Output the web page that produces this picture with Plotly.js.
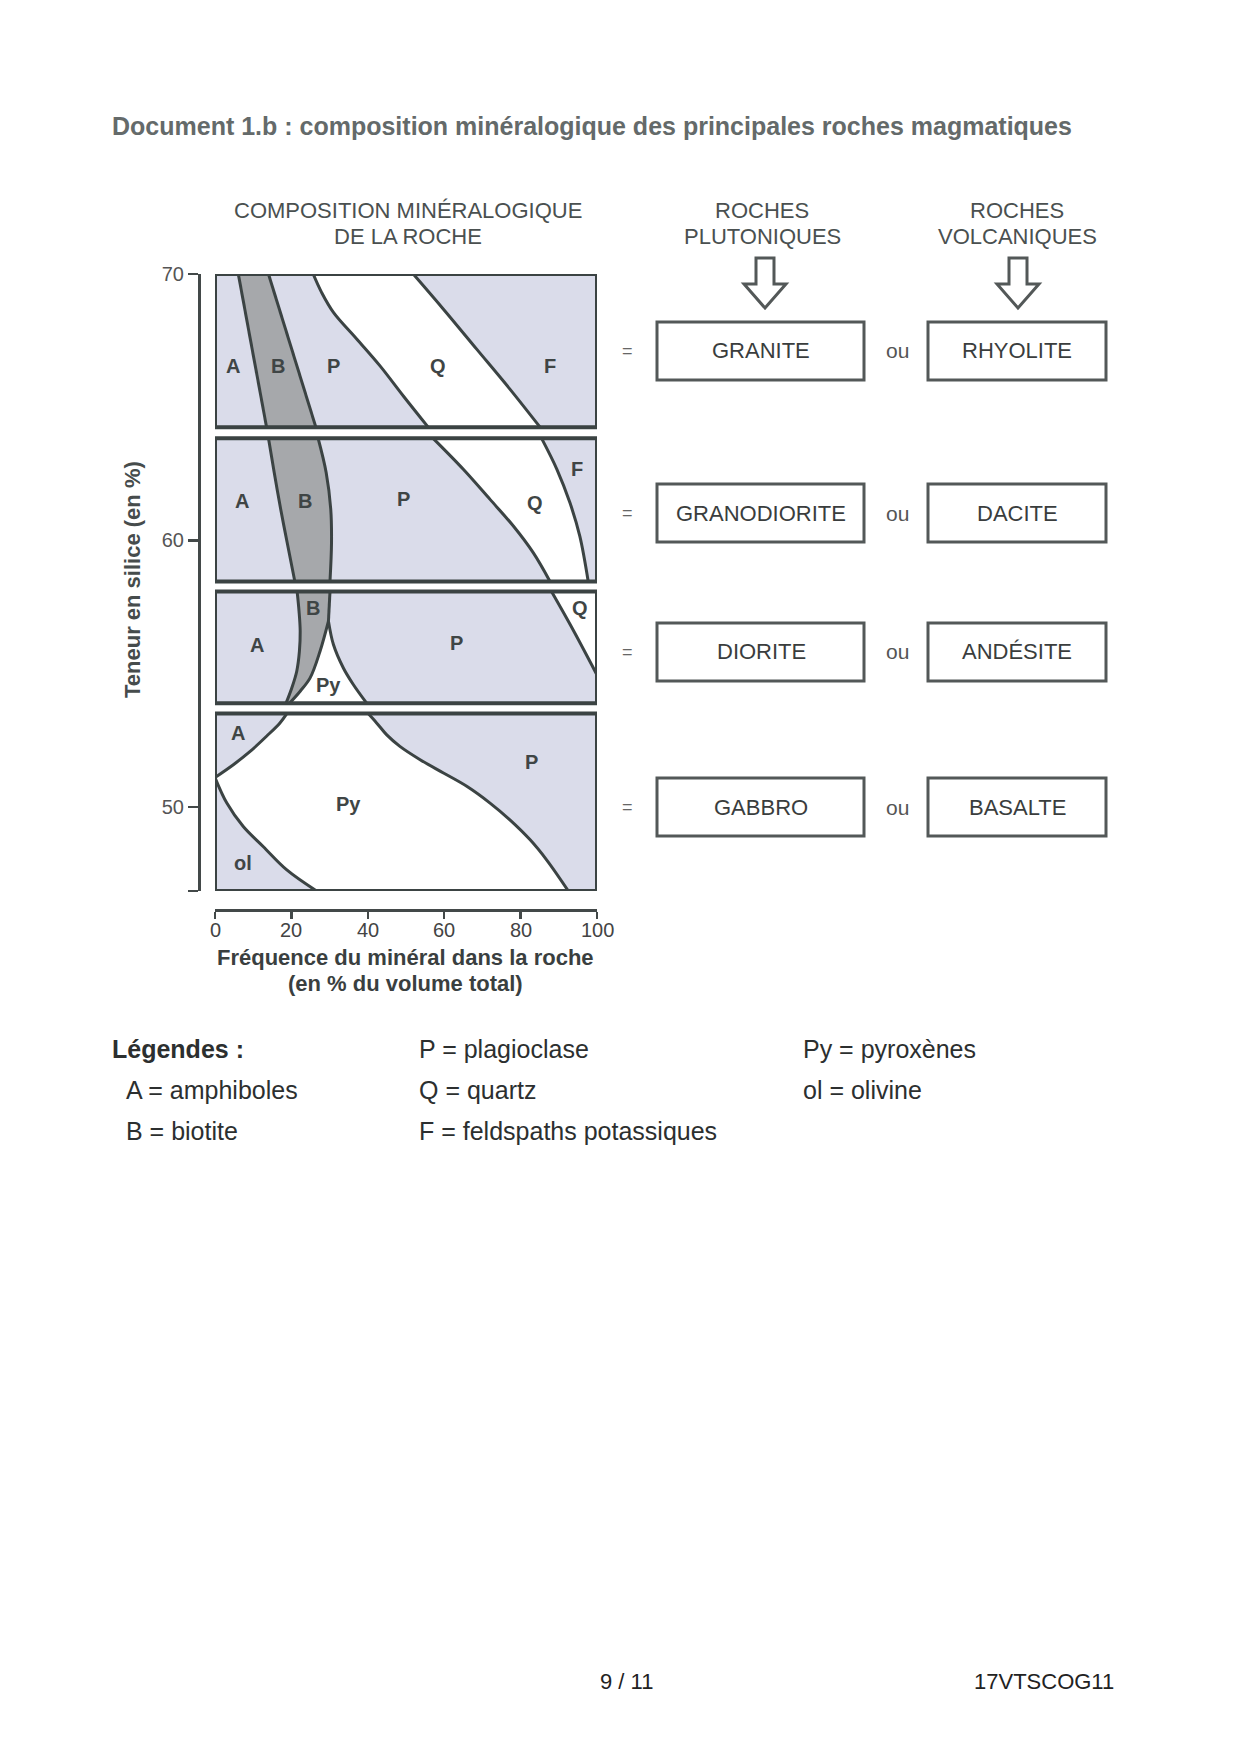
<!DOCTYPE html>
<html><head><meta charset="utf-8">
<script src="https://cdn.plot.ly/plotly-3.0.1.min.js"></script>
<style>html,body{margin:0;padding:0;background:#fff}#chart{width:1240px;height:1754px}</style>
</head><body><div id="chart"></div>
<script>
// ================= DATA =================
const silicaTicks = [50, 60, 70];
const freqTicks = [0, 20, 40, 60, 80, 100];
// silica extent (%) of each of the four panels
const panelTop    = [70.0, 63.83, 58.08, 53.50];
const panelBottom = [64.25, 58.46, 53.89, 46.84];

// Panel 1 : granite / rhyolite
const p1_AB_x = [6.1, 13.5];             const p1_AB_y = [70.0, 64.25];
const p1_BP_x = [14.0, 26.4];            const p1_BP_y = [70.0, 64.25];
const p1_PQ_x = [25.7, 27.9, 31.0, 37.1, 43.2, 49.3, 55.8];
const p1_PQ_y = [70.0, 69.31, 68.56, 67.56, 66.55, 65.42, 64.25];
const p1_QF_x = [51.9, 59.8, 68.5, 77.2, 85.1];
const p1_QF_y = [70.0, 68.68, 67.18, 65.68, 64.25];

// Panel 2 : granodiorite / dacite
const p2_AB_x = [14.0, 15.5, 17.2, 18.9, 20.9];
const p2_AB_y = [63.83, 62.55, 61.17, 59.91, 58.46];
const p2_BP_x = [27.0, 29.1, 30.3, 30.5, 30.1];
const p2_BP_y = [63.83, 62.55, 61.17, 59.91, 58.46];
const p2_PQ_x = [57.1, 65.0, 72.0, 78.1, 83.3, 87.7];
const p2_PQ_y = [63.83, 62.67, 61.54, 60.54, 59.54, 58.46];
const p2_QF_x = [85.5, 89.5, 92.9, 95.5, 97.7];
const p2_QF_y = [63.83, 62.67, 61.42, 60.16, 58.46];

// Panel 3 : diorite / andesite
const p3_BL_x = [21.5, 22.0, 22.3, 22.1, 21.4, 20.1, 18.6];
const p3_BL_y = [58.08, 57.34, 56.59, 55.84, 55.09, 54.46, 53.89];
const p3_BP_x = [30.1, 29.7];            const p3_BP_y = [58.08, 56.97];
const p3_BPy_x = [29.7, 27.5, 24.9, 22.3, 19.5];
const p3_BPy_y = [56.97, 55.84, 54.84, 54.34, 53.89];
const p3_PyP_x = [29.7, 31.0, 33.6, 36.2, 39.7];
const p3_PyP_y = [56.97, 56.09, 55.21, 54.59, 53.89];
const p3_PQ_x = [88.1, 93.9, 100];
const p3_PQ_y = [58.08, 56.60, 54.95];

// Panel 4 : gabbro / basalt
const p4_A_x = [18.8, 17.0, 13.5, 9.2, 4.8, 0];
const p4_A_y = [53.50, 53.15, 52.65, 52.08, 51.58, 51.1];
const p4_ol_x = [0, 3.1, 7.4, 12.6, 18.8, 26.6];
const p4_ol_y = [51.1, 50.14, 49.26, 48.51, 47.63, 46.84];
const p4_PyP_x = [40.1, 42.3, 44.9, 48.4, 53.7, 59.8, 65.9, 72.0, 77.2, 82.5, 86.8, 92.5];
const p4_PyP_y = [53.50, 53.15, 52.71, 52.27, 51.77, 51.27, 50.77, 50.14, 49.51, 48.76, 48.01, 46.84];

// mineral labels inside panels
const labelText = ['A','B','P','Q','F',  'A','B','P','Q','F',  'B','A','P','Q','Py',  'A','P','Py','ol'];
const labelX    = [4.8,16.6,31.0,58.5,87.7, 7.0,23.6,49.3,83.8,94.7, 25.7,10.9,63.3,95.5,29.7, 6.1,82.9,34.9,7.3];
const labelY    = [66.55,66.55,66.55,66.55,66.55, 61.48,61.48,61.54,61.42,62.67, 57.47,56.09,56.15,57.47,54.59, 52.77,51.70,50.11,47.88];

const plutonic  = ['GRANITE', 'GRANODIORITE', 'DIORITE', 'GABBRO'];
const volcanic  = ['RHYOLITE', 'DACITE', 'ANDÉSITE', 'BASALTE'];

const legendCol1 = ['A = amphiboles', 'B = biotite'];
const legendCol2 = ['P = plagioclase', 'Q = quartz', 'F = feldspaths potassiques'];
const legendCol3 = ['Py = pyroxènes', 'ol = olivine'];

// ================= DRAWING =================
const W = 1240, H = 1754;
const px = x => x / W;
const py = y => 1 - y / H;
const FONT = 'Liberation Sans, Arial, Helvetica, sans-serif';
const LIGHT = '#dadcea';
const DARKB = '#a6a8ab';
const LINE = '#3b4343';
const rev = a => a.slice().reverse();
const traces = [];

function poly(xs, ys, color) {
  traces.push({type:'scatter', mode:'none', x:xs, y:ys, fill:'toself', fillcolor:color,
    hoverinfo:'skip', showlegend:false});
}
function line(xs, ys, shape, w) {
  traces.push({type:'scatter', mode:'lines', x:xs, y:ys,
    line:{color:LINE, width:w||3, shape:shape||'spline', smoothing:1},
    hoverinfo:'skip', showlegend:false});
}
function rectX() { return [0, 100, 100, 0, 0]; }
function rectY(i) { return [panelTop[i], panelTop[i], panelBottom[i], panelBottom[i], panelTop[i]]; }

// backgrounds
for (let i = 0; i < 4; i++) poly(rectX(), rectY(i), LIGHT);

// panel 1
poly(p1_AB_x.concat(rev(p1_BP_x)), p1_AB_y.concat(rev(p1_BP_y)), DARKB);
poly(p1_PQ_x.concat(rev(p1_QF_x)), p1_PQ_y.concat(rev(p1_QF_y)), '#ffffff');
// panel 2
poly(p2_AB_x.concat(rev(p2_BP_x)), p2_AB_y.concat(rev(p2_BP_y)), DARKB);
poly(p2_PQ_x.concat(rev(p2_QF_x)), p2_PQ_y.concat(rev(p2_QF_y)), '#ffffff');
// panel 3
poly(p3_BL_x.concat(rev(p3_BPy_x)).concat([p3_BP_x[0]]),
     p3_BL_y.concat(rev(p3_BPy_y)).concat([p3_BP_y[0]]), DARKB);
poly(p3_BPy_x.concat(rev(p3_PyP_x)), p3_BPy_y.concat(rev(p3_PyP_y)), '#ffffff');
poly(p3_PQ_x.concat([100]), p3_PQ_y.concat([panelTop[2]]), '#ffffff');
// panel 4
poly(p4_A_x.concat(p4_ol_x.slice(1)).concat(rev(p4_PyP_x)),
     p4_A_y.concat(p4_ol_y.slice(1)).concat(rev(p4_PyP_y)), '#ffffff');

// boundary lines
[[p1_AB_x,p1_AB_y],[p1_BP_x,p1_BP_y],[p1_PQ_x,p1_PQ_y],[p1_QF_x,p1_QF_y],
 [p2_AB_x,p2_AB_y],[p2_BP_x,p2_BP_y],[p2_PQ_x,p2_PQ_y],[p2_QF_x,p2_QF_y],
 [p3_BL_x,p3_BL_y],[p3_BP_x,p3_BP_y],[p3_BPy_x,p3_BPy_y],[p3_PyP_x,p3_PyP_y],[p3_PQ_x,p3_PQ_y],
 [p4_A_x,p4_A_y],[p4_ol_x,p4_ol_y],[p4_PyP_x,p4_PyP_y]].forEach(b => line(b[0], b[1]));

// panel borders
for (let i = 0; i < 4; i++) line(rectX(), rectY(i), 'linear', 4);

// ---------- annotations ----------
const ann = [];
function txt(x, y, text, size, color, opts) {
  ann.push(Object.assign({xref:'paper', yref:'paper', x:px(x), y:py(y), text:text, showarrow:false,
    xanchor:'center', yanchor:'middle', font:{family:FONT, size:size, color:color}}, opts||{}));
}
for (let i = 0; i < labelText.length; i++) {
  ann.push({xref:'x', yref:'y', x:labelX[i], y:labelY[i], text:'<b>'+labelText[i]+'</b>', showarrow:false,
    xanchor:'center', yanchor:'middle', font:{family:FONT, size:20, color:'#3f4545'}});
}
// x tick labels (placed on the data scale)
freqTicks.forEach(v => ann.push({xref:'x', yref:'paper', x:v, y:py(930), text:String(v), showarrow:false,
  xanchor:'center', yanchor:'middle', font:{family:FONT, size:20, color:'#444'}}));

txt(110, 126, '<b>Document 1.b : composition minéralogique des principales roches magmatiques</b>', 25, '#646a6a', {xanchor:'left'});
txt(408, 210.5, 'COMPOSITION MINÉRALOGIQUE', 22, '#4a5050');
txt(408, 237, 'DE LA ROCHE', 22, '#4a5050');
txt(762, 210.5, 'ROCHES', 22, '#4a5050');
txt(762, 237, 'PLUTONIQUES', 22, '#4a5050');
txt(1017, 210.5, 'ROCHES', 22, '#4a5050');
txt(1017, 237, 'VOLCANIQUES', 22, '#4a5050');
txt(132, 580, '<b>Teneur en silice (en %)</b>', 22, '#464c4c', {textangle:-90});
txt(405, 957, '<b>Fréquence du minéral dans la roche</b>', 22, '#3a3f3f');
txt(405, 983, '<b>(en % du volume total)</b>', 22, '#3a3f3f');

const rowY = [351.0, 513.0, 652.0, 807.0];
const shapes = [];
for (let i = 0; i < 4; i++) {
  const y0 = rowY[i] - 29, y1 = rowY[i] + 29;
  shapes.push({type:'rect', xref:'paper', yref:'paper', x0:px(657), x1:px(864), y0:py(y0), y1:py(y1),
    line:{color:'#535858', width:3}, fillcolor:'rgba(0,0,0,0)'});
  shapes.push({type:'rect', xref:'paper', yref:'paper', x0:px(928), x1:px(1106), y0:py(y0), y1:py(y1),
    line:{color:'#535858', width:3}, fillcolor:'rgba(0,0,0,0)'});
  txt(761, rowY[i], plutonic[i], 22, '#3a3d3d');
  txt(1017, rowY[i], volcanic[i], 22, '#3a3d3d');
  txt(627, rowY[i], '=', 18, '#666');
  txt(897, rowY[i], 'ou', 21, '#555');
}
// hollow arrows
function arrow(cx) {
  const p = [[cx-9,258],[cx+9,258],[cx+9,284],[cx+21,284],[cx,308],[cx-21,284],[cx-9,284]];
  let d = 'M' + p.map(q => px(q[0]).toFixed(5) + ',' + py(q[1]).toFixed(5)).join(' L') + ' Z';
  shapes.push({type:'path', xref:'paper', yref:'paper', path:d, line:{color:'#535858', width:3}, fillcolor:'rgba(0,0,0,0)'});
}
arrow(765); arrow(1018);

// legend
txt(110, 1049, '<b>Légendes :</b>', 25, '#2c2f2f', {xanchor:'left'});
legendCol1.forEach((t, i) => txt(124, 1090 + i*41, t, 25, '#2c2f2f', {xanchor:'left'}));
legendCol2.forEach((t, i) => txt(417, 1049 + i*41, t, 25, '#2c2f2f', {xanchor:'left'}));
legendCol3.forEach((t, i) => txt(801, 1049 + i*41, t, 25, '#2c2f2f', {xanchor:'left'}));
// footer
txt(626, 1681, '9 / 11', 22, '#222');
txt(972, 1681, '17VTSCOG11', 22, '#222', {xanchor:'left'});

const axisColor = '#434949';
const layout = {
  width: W, height: H, margin:{l:0, r:0, t:0, b:0},
  paper_bgcolor:'#ffffff', plot_bgcolor:'rgba(0,0,0,0)', showlegend:false,
  font:{family:FONT},
  xaxis:{domain:[px(215), px(597)], range:[0,100], anchor:'free', position:py(910), side:'bottom',
    showline:true, linewidth:3, linecolor:axisColor, ticks:'outside', ticklen:7, tickwidth:2.5, tickcolor:axisColor,
    tickmode:'array', tickvals:freqTicks, showticklabels:false,
    showgrid:false, zeroline:false, fixedrange:true, title:{text:''}},
  yaxis:{domain:[py(891), py(274)], range:[panelBottom[3], panelTop[0]], anchor:'free', position:px(199), side:'left',
    showline:true, linewidth:3, linecolor:axisColor, ticks:'outside', ticklen:10, tickwidth:2.5, tickcolor:axisColor,
    tickmode:'array', tickvals:[panelBottom[3]].concat(silicaTicks), ticktext:[''].concat(silicaTicks.map(String)),
    tickfont:{family:FONT, size:20, color:'#555'},
    showgrid:false, zeroline:false, fixedrange:true, title:{text:''}},
  annotations: ann,
  shapes: shapes
};
Plotly.newPlot('chart', traces, layout, {staticPlot:true, displayModeBar:false});
</script>
</body></html>
